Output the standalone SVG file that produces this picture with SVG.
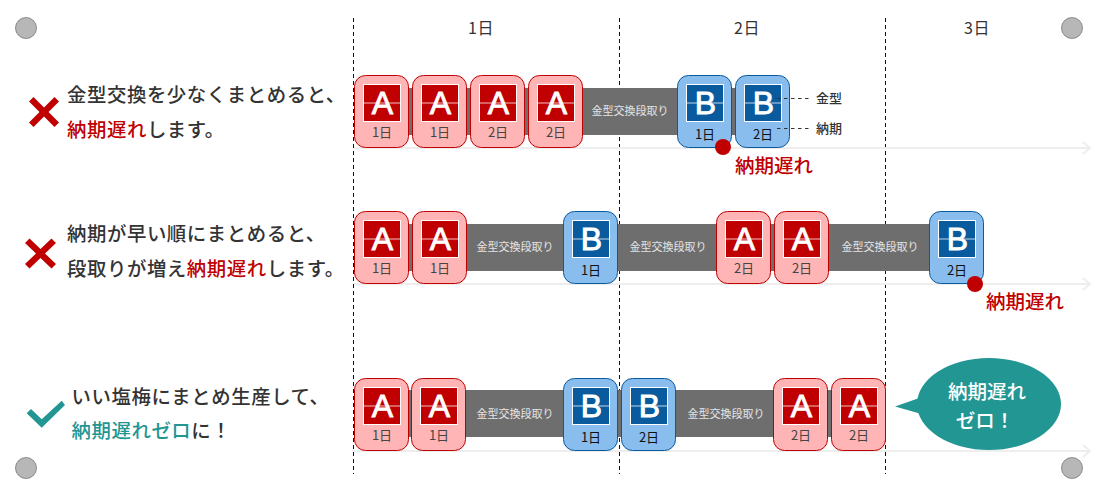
<svg xmlns="http://www.w3.org/2000/svg" width="1100" height="495" viewBox="0 0 1100 495">
<style>
text{font-family:"Noto Sans CJK JP","Noto Sans",sans-serif}
.lead{font-size:19.4px;font-weight:500;fill:#333;letter-spacing:.58px}
.red{fill:#c00000}.teal{fill:#229693}
.day{font-size:16px;fill:#333;text-anchor:middle;letter-spacing:.5px}
.d{font-size:13px;text-anchor:middle}
.a .d{fill:#444}.b .d{fill:#111}
.ra{fill:#ffb5b5;stroke:#c00000;stroke-width:1}
.rb{fill:#88bdee;stroke:#0a5a9e;stroke-width:1}
.sa{fill:#c00000;stroke:#fff;stroke-width:1}
.sb{fill:#0a5a9e;stroke:#fff;stroke-width:1}
.L{font-family:"Liberation Sans",sans-serif;font-size:32px;fill:#fff;stroke:#fff;stroke-width:.9;text-anchor:middle}
.sheen{stroke:#fff;stroke-opacity:.5;stroke-width:1.5}
.bar{fill:#6e6e6e}
.barT{font-size:11px;fill:#e4e4e4;text-anchor:middle}
.late{font-size:19.5px;font-weight:500;fill:#c00000;text-anchor:middle}
.note{font-size:13px;fill:#333;font-weight:500}
.guide{stroke:#111;stroke-width:1;stroke-dasharray:4 3;fill:none}
.lead2{stroke:#333;stroke-width:1;stroke-dasharray:3.5 3.5;fill:none}
.arrow{stroke:#eee;stroke-width:2;fill:none}
.hole{fill:#b7b7b7;stroke:#777;stroke-width:.8}
.dot{fill:#c00000}
.bt{font-size:19.5px;font-weight:500;fill:#fff;text-anchor:middle}
</style>
<defs>
<g id="ca"><rect class="ra" x=".5" y=".5" width="54" height="72" rx="11"/><rect class="sa" x="9.5" y="9.5" width="37" height="37"/><line class="sheen" x1="10" y1="28" x2="46" y2="28"/><text class="L" x="28.5" y="38.500">A</text></g>
<g id="cb"><rect class="rb" x=".5" y=".5" width="54" height="72" rx="11"/><rect class="sb" x="9.5" y="9.5" width="37" height="37"/><line class="sheen" x1="10" y1="28" x2="46" y2="28"/><text class="L" x="28.5" y="38.500">B</text></g>
</defs>
<g id="connectors">
<path class="guide" d="M353.500 18V474M619.500 18V474M885.500 18V474"/>
<path class="arrow" d="M354 148H1090M1083 142l7 6l-7 6M354 284H1090M1083 278l7 6l-7 6M354 451H1090M1083 445l7 6l-7 6"/>
</g>
<g id="holes"><circle class="hole" cx="26" cy="28" r="10.5"/><circle class="hole" cx="1072" cy="28" r="10.5"/><circle class="hole" cx="26" cy="468" r="10.5"/><circle class="hole" cx="1072" cy="468" r="10.5"/></g>
<g id="days"><text class="day" x="481" y="34">1日</text><text class="day" x="747" y="34">2日</text><text class="day" x="977" y="34">3日</text></g>

<g id="row1-text"><path class="red" d="M29 101.500L33.500 97L44 107.500L54.500 97L59 101.500L48.500 112L59 122.500L54.500 127L44 116.500L33.500 127L29 122.500L39.500 112z"/>
<text class="lead" x="67" y="102">金型交換を少なくまとめると、</text>
<text class="lead" x="67" y="137"><tspan class="red">納期遅れ</tspan>します。</text></g>
<g id="row1-bars"><rect class="bar" x="400" y="88" width="290" height="47"/><rect class="bar" x="725" y="88" width="20" height="47"/><text class="barT" x="630" y="115">金型交換段取り</text></g>
<g id="r1a" class="a"><use href="#ca" x="354" y="75"/><text class="d" x="382" y="137">1日</text></g>
<g id="r1b" class="a"><use href="#ca" x="412" y="75"/><text class="d" x="440" y="137">1日</text></g>
<g id="r1c" class="a"><use href="#ca" x="470" y="75"/><text class="d" x="498" y="137">2日</text></g>
<g id="r1d" class="a"><use href="#ca" x="528" y="75"/><text class="d" x="556" y="137">2日</text></g>
<g id="r1e" class="b"><use href="#cb" x="677" y="75"/><text class="d" x="705" y="139">1日</text></g>
<g id="r1f" class="b"><use href="#cb" x="735" y="75"/><text class="d" x="763" y="139">2日</text></g>
<g id="r1-notes"><path class="lead2" d="M777 98.500H811M777 128.500H811"/><text class="note" x="816" y="103">金型</text><text class="note" x="816" y="133">納期</text></g>
<g id="r1-late"><circle class="dot" cx="723" cy="147" r="8"/><text class="late" x="774" y="173">納期遅れ</text></g>

<g id="row2-text"><path class="red" d="M25 243L29.500 238.500L40.500 249L51.500 238.500L56 243L45 253.500L56 264L51.500 268.500L40.500 258L29.500 268.500L25 264L36 253.500z"/>
<text class="lead" x="67" y="241">納期が早い順にまとめると、</text>
<text class="lead" x="67" y="276">段取りが増え<tspan class="red">納期遅れ</tspan>します。</text></g>
<g id="row2-bars"><rect class="bar" x="400" y="224" width="540" height="47"/><text class="barT" x="515" y="251">金型交換段取り</text><text class="barT" x="668" y="251">金型交換段取り</text><text class="barT" x="880" y="251">金型交換段取り</text></g>
<g id="r2a" class="a"><use href="#ca" x="354" y="211"/><text class="d" x="382" y="273">1日</text></g>
<g id="r2b" class="a"><use href="#ca" x="412" y="211"/><text class="d" x="440" y="273">1日</text></g>
<g id="r2c" class="b"><use href="#cb" x="563" y="211"/><text class="d" x="591" y="275">1日</text></g>
<g id="r2d" class="a"><use href="#ca" x="716" y="211"/><text class="d" x="744" y="273">2日</text></g>
<g id="r2e" class="a"><use href="#ca" x="774" y="211"/><text class="d" x="802" y="273">2日</text></g>
<g id="r2f" class="b"><use href="#cb" x="929" y="211"/><text class="d" x="957" y="275">2日</text></g>
<g id="r2-late"><circle class="dot" cx="975" cy="284" r="8"/><text class="late" x="1025" y="309">納期遅れ</text></g>

<g id="row3-text"><path class="teal" d="M26.700 413.300L31 409L41.700 419.300L61.700 400.700L65 405L41.700 427.700z"/>
<text class="lead" x="71.5" y="404">いい塩梅にまとめ生産して、</text>
<text class="lead" x="71.5" y="438"><tspan class="teal">納期遅れゼロ</tspan>に！</text></g>
<g id="row3-bars"><rect class="bar" x="400" y="390" width="440" height="47"/><text class="barT" x="515" y="418">金型交換段取り</text><text class="barT" x="726" y="418">金型交換段取り</text></g>
<g id="r3a" class="a"><use href="#ca" x="354" y="378"/><text class="d" x="382" y="440">1日</text></g>
<g id="r3b" class="a"><use href="#ca" x="411" y="378"/><text class="d" x="439" y="440">1日</text></g>
<g id="r3c" class="b"><use href="#cb" x="563" y="378"/><text class="d" x="591" y="442">1日</text></g>
<g id="r3d" class="b"><use href="#cb" x="621" y="378"/><text class="d" x="649" y="442">2日</text></g>
<g id="r3e" class="a"><use href="#ca" x="773" y="378"/><text class="d" x="801" y="440">2日</text></g>
<g id="r3f" class="a"><use href="#ca" x="831" y="378"/><text class="d" x="859" y="440">2日</text></g>
<g id="bubble"><ellipse class="teal" cx="989" cy="404" rx="72" ry="46"/><path class="teal" d="M895 406.500L925 396V415z"/>
<text class="bt" x="987" y="399">納期遅れ</text>
<text class="bt" x="985" y="428">ゼロ！</text></g>
</svg>
